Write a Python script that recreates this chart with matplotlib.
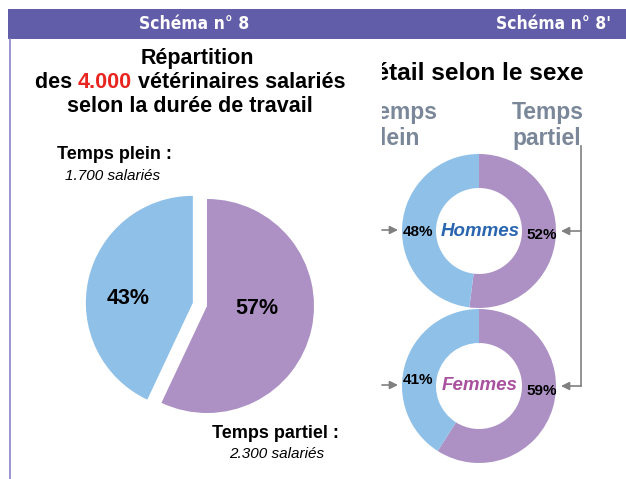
import matplotlib
matplotlib.use("Agg")
import matplotlib.pyplot as plt
from matplotlib.transforms import Bbox, TransformedBbox
from matplotlib import font_manager

# ---- data ----
main_labels = ["Temps partiel", "Temps plein"]
main_values = [57, 43]
main_counts = ["2.300 salariés", "1.700 salariés"]
total_label = "4.000"

sex_groups = ["Hommes", "Femmes"]
partiel_pct = [52, 59]
plein_pct = [48, 41]

W, H = 626, 479
BLUE = "#8fc0e8"
PURPLE = "#ad91c4"
HEADER = "#625da8"
GREYBLUE = "#7a8799"
ARROW = "#808080"

plt.rcParams["font.family"] = ["Liberation Sans", "DejaVu Sans"]

names = {f.name for f in font_manager.fontManager.ttflist}
if "Liberation Sans Narrow" in names:
    head_kw = dict(family="Liberation Sans Narrow", fontsize=15)
else:
    head_kw = dict(family="DejaVu Sans", fontstretch="condensed", fontsize=12.5)

fig = plt.figure(figsize=(W / 100, H / 100), dpi=100)
ax = fig.add_axes([0, 0, 1, 1])
ax.set_xlim(0, W)
ax.set_ylim(0, H)
ax.axis("off")


def Y(y):
    return H - y


# header bar
ax.add_patch(plt.Rectangle((8, Y(39)), W - 8, 30, color=HEADER, lw=0))
ax.text(194, Y(24), "Schéma n° 8", color="white", fontweight="bold",
        ha="center", va="center", **head_kw)
ax.text(611, Y(24), "Schéma n° 8'", color="white", fontweight="bold",
        ha="right", va="center", **head_kw)
# left border
ax.plot([9.5, 9.5], [Y(39), 0], color="#8a85c6", lw=1.2)

# ---- left title ----
TFS = 15.5
ax.text(197, Y(58), "Répartition", fontsize=TFS, fontweight="bold", ha="center", va="center")
ax.text(190, Y(106), "selon la durée de travail", fontsize=TFS, fontweight="bold",
        ha="center", va="center")
# mixed colour line
parts = [("des ", "black"), (total_label, "#e8261f"), (" vétérinaires salariés", "black")]
fig.canvas.draw()
r = fig.canvas.get_renderer()


def text_width(s):
    t = ax.text(0, 0, s, fontsize=TFS, fontweight="bold")
    w = t.get_window_extent(renderer=r).width
    t.remove()
    return w


total_w = text_width("".join(p[0] for p in parts))
x0 = 190 - total_w / 2
prefix = ""
for s, c in parts:
    off = text_width(prefix) if prefix else 0
    ax.text(x0 + off, Y(82), s, fontsize=TFS, fontweight="bold", color=c,
            ha="left", va="center")
    prefix += s

# ---- main pie ----
ax.pie(main_values, colors=[PURPLE, BLUE], startangle=90, counterclock=False,
       radius=107, center=(207, Y(306)), explode=[0, 14.5], frame=True,
       wedgeprops=dict(linewidth=0))
ax.text(257, Y(308), f"{main_values[0]}%", fontsize=15.5, fontweight="bold", ha="center", va="center")
ax.text(128, Y(298), f"{main_values[1]}%", fontsize=15.5, fontweight="bold", ha="center", va="center")

ax.text(57, Y(154), f"{main_labels[1]} :", fontsize=13, fontweight="bold", ha="left", va="center")
ax.text(65, Y(176), main_counts[1], fontsize=11, style="italic", ha="left", va="center")
ax.text(212, Y(434), f"{main_labels[0]} :", fontsize=13, fontweight="bold", ha="left", va="center")
ax.text(277, Y(454), main_counts[0], fontsize=11, style="italic", ha="center", va="center")

# ---- right panel (clipped at its left edge) ----
clip = TransformedBbox(Bbox([[382, 0], [W, H]]), ax.transData)
t = ax.text(584, Y(73), "Détail selon le sexe", fontsize=17.6, fontweight="bold",
            ha="right", va="center", clip_on=True)
t.set_clip_box(clip)
for txt, yy in (("Temps", 112), ("plein", 138)):
    t = ax.text(366, Y(yy), txt, fontsize=16.5, fontweight="bold", color=GREYBLUE,
                ha="left", va="center", clip_on=True)
    t.set_clip_box(clip)
for txt, yy in (("Temps", 112), ("partiel", 138)):
    ax.text(512, Y(yy), txt, fontsize=16.5, fontweight="bold", color=GREYBLUE,
            ha="left", va="center")

donut_cy = [231, 386]
name_colors = ["#2a66b0", "#a9509f"]
left_lab_y = [232, 380]
right_lab_y = [235, 391]
for i, g in enumerate(sex_groups):
    cy = donut_cy[i]
    ax.pie([partiel_pct[i], plein_pct[i]], colors=[PURPLE, BLUE], startangle=90,
           counterclock=False, radius=77, center=(479, Y(cy)), frame=True,
           wedgeprops=dict(width=34, linewidth=0))
    ax.text(480, Y(cy), g, fontsize=13.5, fontweight="bold", style="italic",
            color=name_colors[i], ha="center", va="center")
    ax.text(418, Y(left_lab_y[i]), f"{plein_pct[i]}%", fontsize=11, fontweight="bold",
            ha="center", va="center")
    ax.text(542, Y(right_lab_y[i]), f"{partiel_pct[i]}%", fontsize=11, fontweight="bold",
            ha="center", va="center")
    # left arrows
    ax.annotate("", xy=(398, Y(cy - 1)), xytext=(382, Y(cy - 1)),
                arrowprops=dict(arrowstyle="-|>", color=ARROW, lw=1.2,
                                mutation_scale=12, shrinkA=0, shrinkB=0))
    # right arrows
    ax.annotate("", xy=(561, Y(cy)), xytext=(581, Y(cy)),
                arrowprops=dict(arrowstyle="-|>", color=ARROW, lw=1.2,
                                mutation_scale=12, shrinkA=0, shrinkB=0))

ax.plot([581, 581], [Y(146), Y(donut_cy[1])], color=ARROW, lw=1.2)

ax.set_xlim(0, W)
ax.set_ylim(0, H)
ax.set_aspect("auto")
fig.savefig("out.png", dpi=100)
